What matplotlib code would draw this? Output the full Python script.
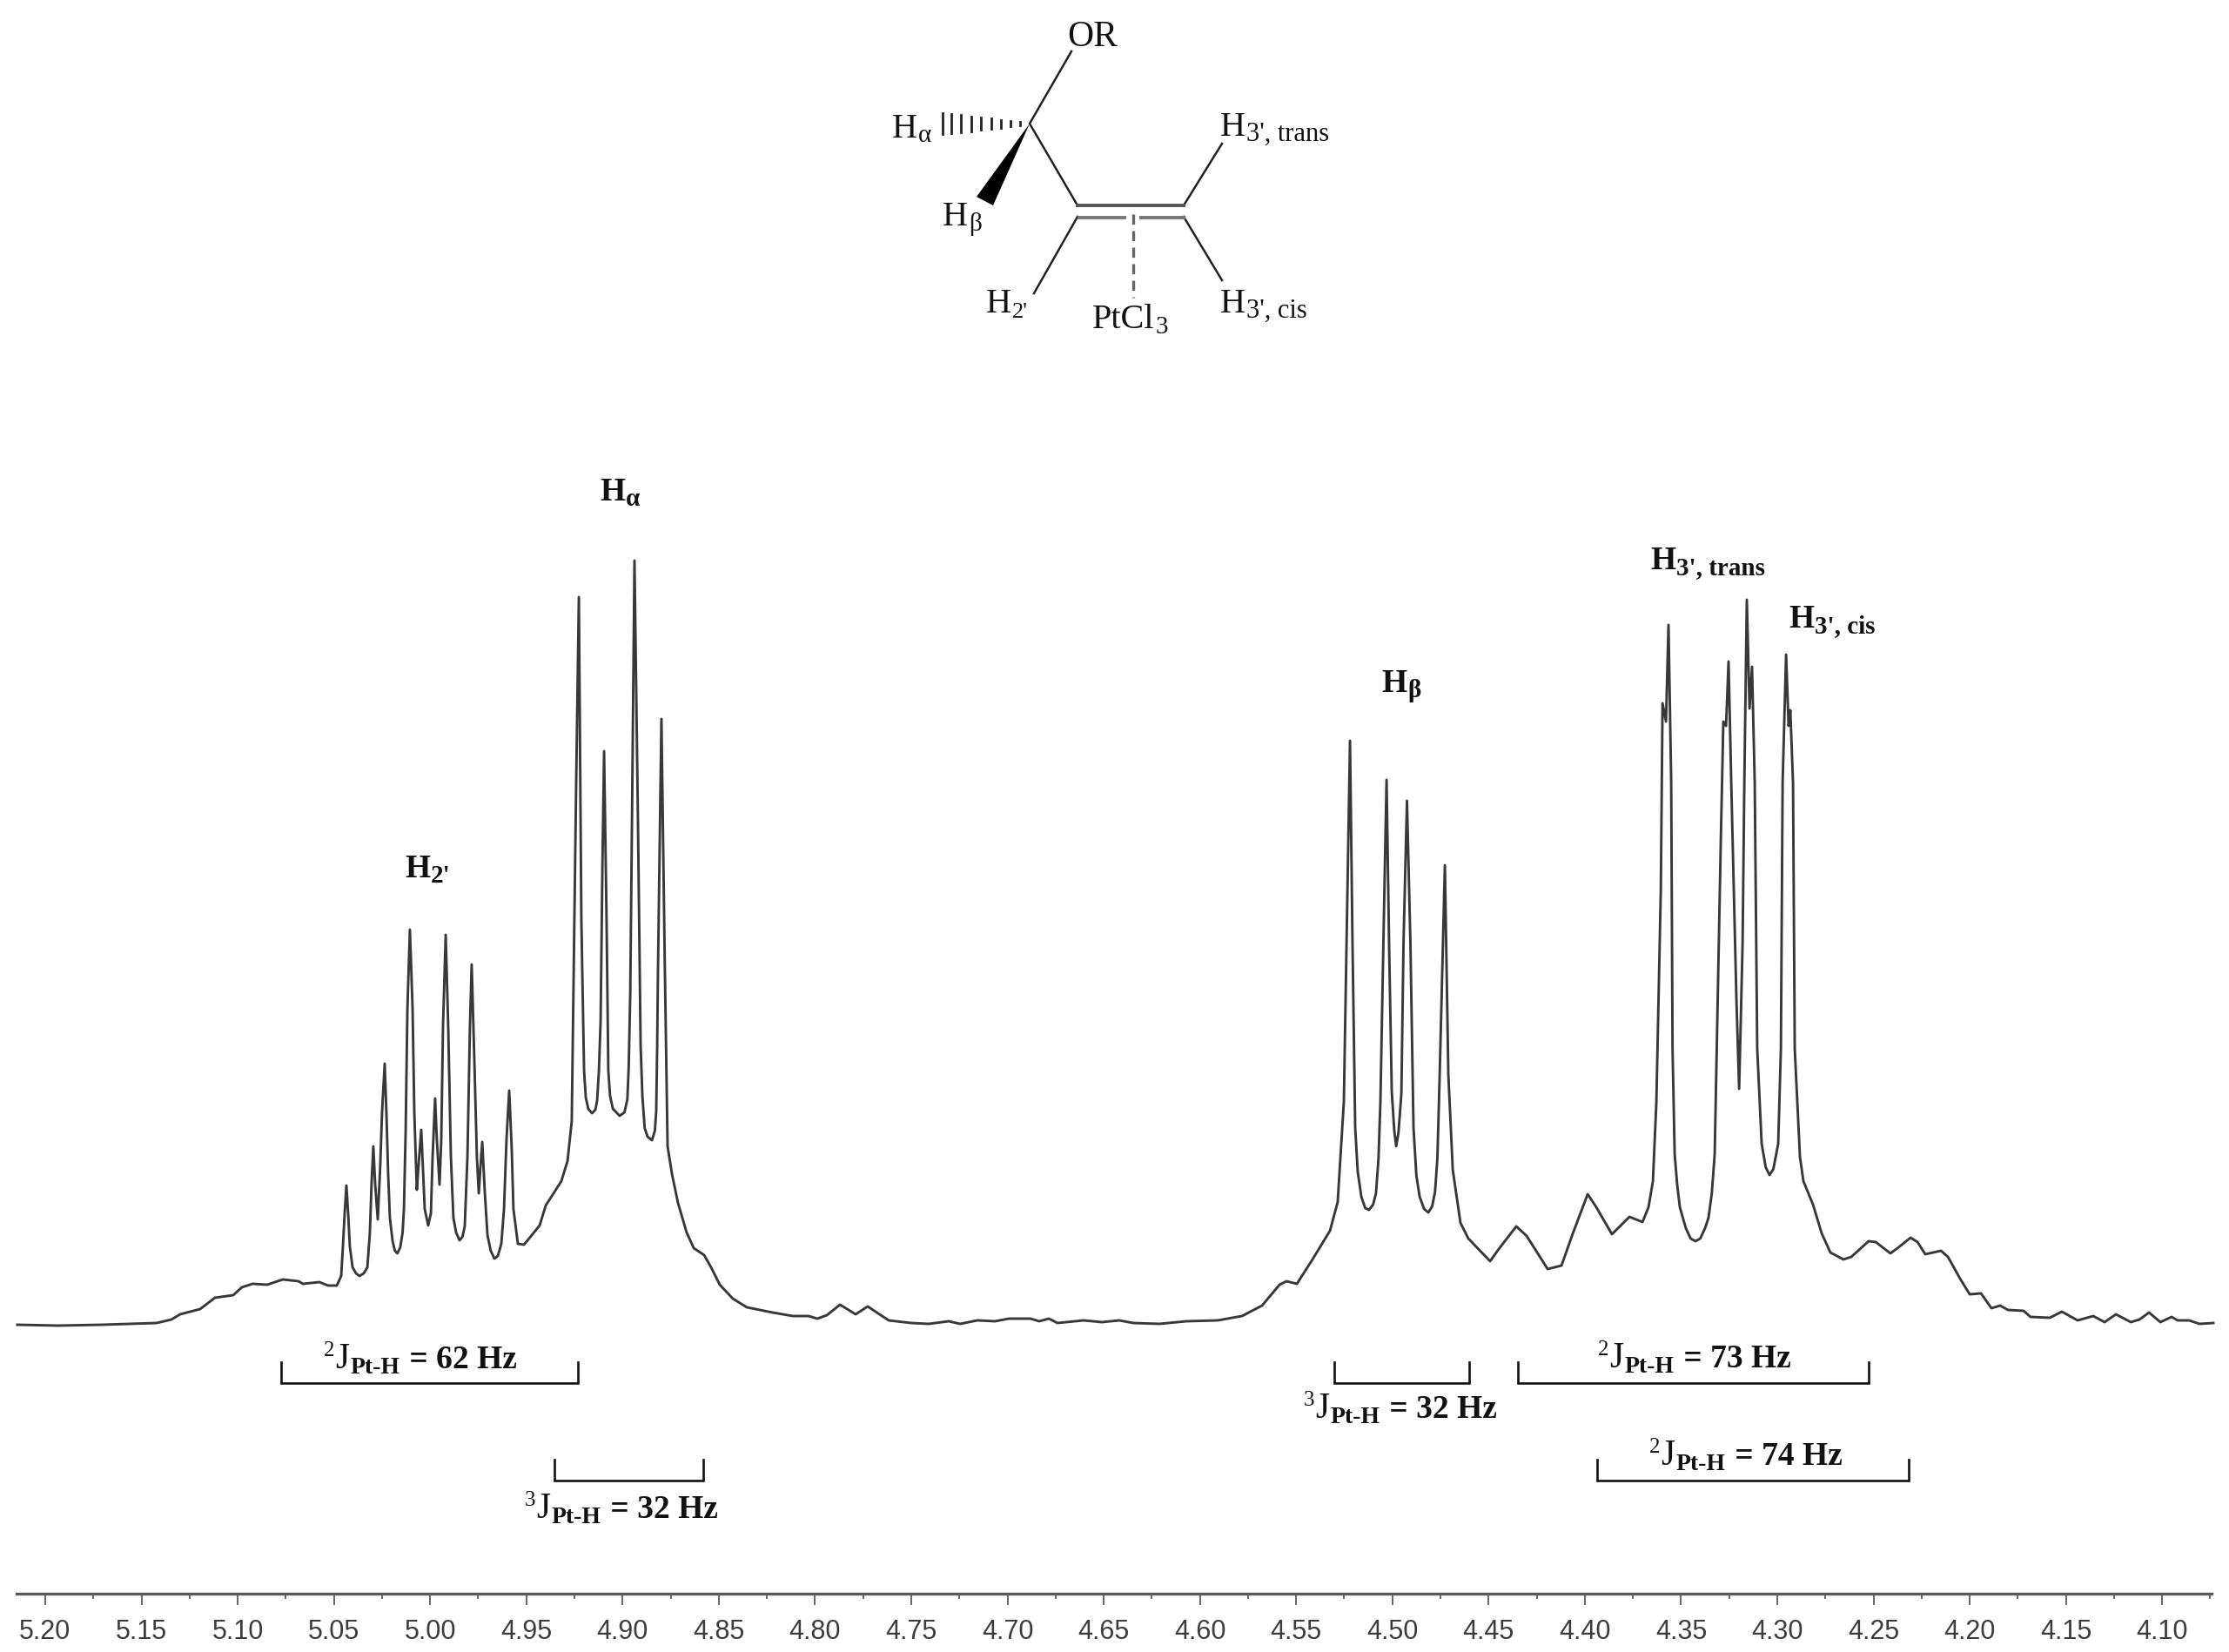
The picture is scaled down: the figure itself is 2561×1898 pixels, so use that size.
import numpy as np
import matplotlib
matplotlib.use("Agg")
import matplotlib.pyplot as plt

W, H = 2561, 1899

# ---------- trace values (ppm, intensity) ----------
ppm_left = [5.2145,5.1932,5.1706,5.1421,5.1344,5.1299,5.1195,5.1118,5.1023,5.0978,5.0923,5.0847,5.0765,5.0684,5.0661,5.0575,5.0530,5.0485]
int_left = [-1,-2,-1,1,5,11,17,30,33,42,46,45,51,49,46,48,44,44]

ppm_h2 = [5.0462,5.0453,5.0444,5.0435,5.0426,5.0417,5.0403,5.0385,5.0367,5.0345,5.0326,5.0313,5.0304,5.0295,5.0286,5.0272,5.0259,5.0250,5.0236,5.0227,5.0218,5.0209,
          5.0195,5.0183,5.0170,5.0155,5.0143,5.0136,5.0127,5.0118,5.0105,5.0091,5.0082,5.0069,5.0060,5.0046,5.0037,5.0028,5.0010,4.9996,4.9987,4.9974,4.9965,4.9951,
          4.9942,4.9933,4.9919,4.9906,4.9892,4.9879,4.9865,4.9847,4.9832,4.9820,4.9806,4.9793,4.9784,4.9770,4.9757,4.9747,4.9738,4.9729,4.9716,4.9702,4.9685,4.9666,4.9648,4.9630,
          4.9616,4.9603,4.9589,4.9576,4.9567,4.9544]
int_h2 = [55,89,127,159,127,89,65,58,55,58,65,105,162,204,162,120,182,242,299,242,172,122,
          95,84,81,88,105,132,222,362,453,362,242,154,182,223,177,132,113,127,192,259,212,160,
          212,342,447,342,192,122,105,96,100,112,192,342,413,302,192,150,182,209,152,102,84,75,78,92,
          132,212,268,202,132,92]

ppm_ha = [4.9512,4.9431,4.9399,4.9318,4.9286,4.9264,4.9254,4.9241,4.9227,4.9214,4.9200,4.9191,4.9178,4.9159,4.9141,4.9132,4.9123,4.9114,4.9105,4.9096,4.9083,4.9074,4.9065,4.9050,
          4.9015,4.8990,4.8975,4.8968,4.8960,4.8951,4.8938,4.8920,4.8906,4.8897,4.8885,4.8870,4.8847,4.8832,4.8825,4.8820,4.8816,4.8798,4.8780,4.8766,4.8743,4.8712,4.8667,4.8630,4.8576,4.8540,
          4.8495,4.8427,4.8354,4.8219]
int_ha = [91,113,136,164,187,233,405,622,835,463,291,260,247,242,246,257,290,348,520,658,463,291,262,247,
          239,243,258,295,380,578,877,578,319,262,225,215,211,222,245,320,405,695,405,204,172,139,105,87,79,65,
          45,29,19,13]

ppm_mid = [4.8115,4.8033,4.7988,4.7938,4.7870,4.7789,4.7726,4.7617,4.7500,4.7409,4.7305,4.7246,4.7156,4.7065,4.6993,4.6880,4.6835,4.6785,4.6740,4.6604,
           4.6509,4.6419,4.6346,4.6211,4.6070,4.5908,4.5781,4.5677,4.5586,4.5550,4.5496,4.5415,4.5324,4.5284]
int_mid = [9,9,6,10,22,11,20,4,1,0,3,0,4,3,6,6,3,6,1,4,
           2,4,1,0,3,4,9,21,45,49,46,74,107,140]

ppm_hb = [4.5252,4.5238,4.5220,4.5207,4.5193,4.5180,4.5161,4.5141,4.5121,4.5100,4.5085,4.5072,4.5062,4.5044,4.5030,4.5017,4.5003,4.4990,4.4980,4.4968,4.4953,4.4942,4.4924,4.4906,4.4890,4.4875,4.4858,4.4835,
          4.4813,4.4793,4.4778,4.4766,4.4754,4.4727,4.4709,4.4686,4.4646,4.4605,4.4492,4.4447,4.4356,4.4302,4.4193,4.4121,4.4062,4.3985,4.3940,4.3859,4.3768,4.3700]
int_hb = [255,437,670,437,225,175,146,133,131,137,150,190,255,467,625,437,267,222,204,220,265,437,601,437,225,170,146,132,
          128,135,152,190,286,527,286,177,116,98,72,86,112,101,63,67,104,149,134,103,123,117]

ppm_h3 = [4.3669,4.3646,4.3628,4.3605,4.3596,4.3578,4.3565,4.3551,4.3544,4.3533,4.3520,4.3506,4.3475,4.3450,4.3425,4.3400,4.3375,4.3357,4.3340,4.3325,4.3293,4.3280,4.3266,4.3253,4.3239,4.3212,
          4.3198,4.3180,4.3171,4.3158,4.3144,4.3131,4.3117,4.3104,4.3081,4.3060,4.3040,4.3020,4.2995,4.2981,4.2972,4.2954,4.2941,4.2932,4.2918,4.2909,4.2882,4.2864]
int_h3 = [134,164,255,498,713,692,803,622,316,195,160,134,110,98,95,98,110,122,150,195,558,692,687,761,622,372,
          270,437,622,832,707,755,622,316,207,180,171,178,207,316,622,769,687,705,622,316,192,164]

ppm_right = [4.2814,4.2769,4.2724,4.2656,4.2615,4.2525,4.2488,4.2412,4.2375,4.2307,4.2271,4.2231,4.2149,4.2113,4.2050,4.2000,4.1941,4.1887,4.1842,4.1801,
             4.1720,4.1684,4.1584,4.1521,4.1439,4.1358,4.1299,4.1240,4.1163,4.1118,4.1068,4.1009,4.0951,4.0919,4.0860,4.0806,4.0734]
int_right = [137,104,82,74,77,95,94,81,87,99,94,80,84,77,52,34,35,18,21,16,
             15,8,7,14,4,9,2,11,2,5,13,2,8,4,4,0,1]

major_ticks = [5.20,5.15,5.10,5.05,5.00,4.95,4.90,4.85,4.80,4.75,4.70,4.65,4.60,4.55,4.50,4.45,4.40,4.35,4.30,4.25,4.20,4.15,4.10]
minor_ticks = [5.175,5.125,5.075,5.025,4.975,4.925,4.875,4.825,4.775,4.725,4.675,4.625,4.575,4.525,4.475,4.425,4.375,4.325,4.275,4.225,4.175,4.125,4.075]

# coupling brackets: left ppm, right ppm, top, bottom
bracket_left = [5.0776,4.9354,4.5302,4.4347,4.3936]
bracket_right = [4.9232,4.8581,4.4600,4.2525,4.2317]
bracket_top = [-44,-156,-44,-44,-156]
bracket_bottom = [-68,-180,-68,-68,-180]

plt.rcParams['font.family'] = ['Liberation Serif', 'DejaVu Serif']

fig = plt.figure(figsize=(W / 100, H / 100), dpi=100, facecolor='white')
ax = fig.add_axes([19 / W, (H - 1832) / H, (2541 - 19) / W, 1832 / H])
ax.set_xlim(5.2149, 4.0743)
ax.set_ylim(-310, 1522)
ax.patch.set_alpha(0)

ppm = ppm_left + ppm_h2 + ppm_ha + ppm_mid + ppm_hb + ppm_h3 + ppm_right
inten = int_left + int_h2 + int_ha + int_mid + int_hb + int_h3 + int_right
ax.plot(ppm, inten, color='#383838', lw=2.1, solid_joinstyle='round', clip_on=False)

for l, r, t, b in zip(bracket_left, bracket_right, bracket_top, bracket_bottom):
    ax.plot([l, l, r, r], [t, b, b, t], color='#111111', lw=1.9, solid_joinstyle='miter')

for s in ('top', 'left', 'right'):
    ax.spines[s].set_visible(False)
ax.spines['bottom'].set_color('#5a5a5a')
ax.spines['bottom'].set_linewidth(2.4)
ax.set_yticks([])
ax.set_xticks(major_ticks)
ax.set_xticklabels([f'{v:.2f}' for v in major_ticks], family='Liberation Sans', fontsize=22, color='#3c3c3c')
ax.set_xticks(minor_ticks, minor=True)
ax.tick_params(axis='x', which='major', length=9.5, width=1.3, color='#5a5a5a', pad=11)
ax.tick_params(axis='x', which='minor', length=4.5, width=1.3, color='#5a5a5a')

# overlay for the labels and the structure, in picture units
ov = fig.add_axes([0, 0, 1, 1])
ov.set_xlim(0, W)
ov.set_ylim(H, 0)
ov.axis('off')
ov.patch.set_alpha(0)
fig.canvas.draw()
rend = fig.canvas.get_renderer()


def chain(x, y, parts, color='#111111'):
    """Place text runs one after the other: (string, size, baseline shift, weight)."""
    for s, size, dy, weight in parts:
        t = ov.text(x, y + dy, s, fontsize=size, fontweight=weight, color=color, ha='left', va='baseline')
        x += t.get_window_extent(rend).width + 1
    return x


def jlabel(x, y, sup, val):
    chain(x, y, [(sup, 18, -14, 'normal'), ('J', 30, 0, 'normal'), ('Pt-H', 20, 6, 'bold'),
                 (' = ' + val + ' Hz', 27, 0, 'bold')])


jlabel(372, 1572, '2', '62')
jlabel(603, 1744, '3', '32')
jlabel(1498, 1629, '3', '32')
jlabel(1836, 1571, '2', '73')
jlabel(1895, 1683, '2', '74')

# peak labels
chain(689, 575, [('H', 27, 0, 'bold'), ('α', 21, 6, 'bold')])
chain(465, 1008, [('H', 27, 0, 'bold'), ("2'", 21, 6, 'bold')])
chain(1587, 795, [('H', 27, 0, 'bold'), ('β', 21, 6, 'bold')])
chain(1896, 654, [('H', 27, 0, 'bold'), ("3', trans", 21, 6, 'bold')])
chain(2055, 721, [('H', 27, 0, 'bold'), ("3', cis", 21, 6, 'bold')])

# structure
bc = '#222222'
lw = 1.8
ov.plot([1231, 1183, 1238], [60, 143, 237], color=bc, lw=lw)
ov.plot([1238, 1188], [250, 338], color=bc, lw=lw)
ov.plot([1404, 1360], [166, 237], color=bc, lw=lw)
ov.plot([1360, 1404], [250, 323], color=bc, lw=lw)
ov.plot([1238, 1360], [237, 237], color='#555555', lw=2.8)
ov.plot([1240, 1292], [251, 251], color='#777777', lw=2.8)
ov.plot([1311, 1360], [251, 251], color='#777777', lw=2.8)
ov.plot([1302, 1302], [247, 343], color='#666666', lw=2.4, ls=(0, (3.5, 2.2)))
ov.fill([1183, 1122, 1141], [143, 227, 237], color='black', lw=0)
for hx, half in zip([1083, 1093, 1104, 1116, 1127, 1139, 1150, 1161, 1172],
                    [12, 11, 10, 8.5, 7, 6, 4.5, 3, 2]):
    ov.plot([hx, hx], [143 - half, 143 + half], color='#222222', lw=2.0)

chain(1226, 53, [('OR', 30, 0, 'normal')])
chain(1025, 158, [('H', 29, 0, 'normal'), ('α', 21, 5, 'normal')])
chain(1083, 259, [('H', 29, 0, 'normal'), ('β', 21, 6, 'normal')])
chain(1133, 359, [('H', 29, 0, 'normal'), ("2'", 19, 6, 'normal')])
chain(1402, 156, [('H', 29, 0, 'normal'), ("3', trans", 22, 6, 'normal')])
chain(1402, 359, [('H', 29, 0, 'normal'), ("3', cis", 22, 6, 'normal')])
chain(1255, 377, [('PtCl', 29, 0, 'normal'), ('3', 21, 6, 'normal')])

fig.savefig('out.png', dpi=100, facecolor='white')
